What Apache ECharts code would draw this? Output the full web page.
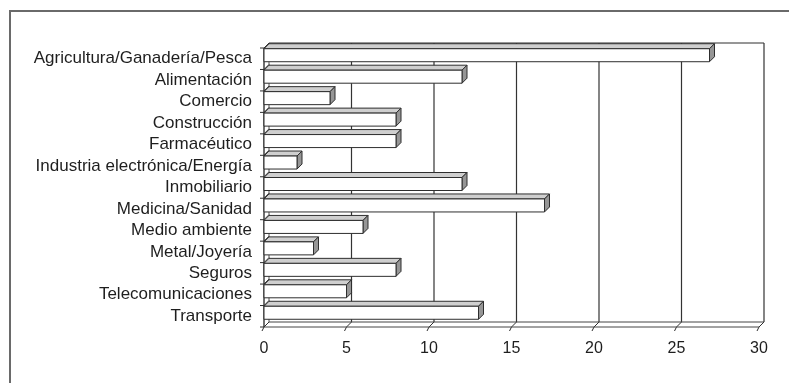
<!DOCTYPE html>
<html>
<head>
<meta charset="utf-8">
<script src="https://cdn.jsdelivr.net/npm/echarts@6/dist/echarts.min.js"></script>
<style>
  html, body { margin: 0; padding: 0; background: #fff; }
  #chart { width: 789px; height: 383px; }
</style>
</head>
<body>
<div id="chart"></div>
<script>
// Sectors and number of companies per sector
const categories = [
  'Agricultura/Ganadería/Pesca',
  'Alimentación',
  'Comercio',
  'Construcción',
  'Farmacéutico',
  'Industria electrónica/Energía',
  'Inmobiliario',
  'Medicina/Sanidad',
  'Medio ambiente',
  'Metal/Joyería',
  'Seguros',
  'Telecomunicaciones',
  'Transporte'
];
const sectorCounts = [27, 12, 4, 8, 8, 2, 12, 17, 6, 3, 8, 5, 13];
const xTicks = [0, 5, 10, 15, 20, 25, 30];

// Pseudo-3D depth offset (px) and bar face extents relative to the band centre
const DX = 5, DY = -5;
const FACE_TOP = -10, FACE_BOTTOM = 3;
const EDGE = '#2e2e2e';

const chart = echarts.init(document.getElementById('chart'), null, { renderer: 'canvas' });

function line(x1, y1, x2, y2, color, w) {
  return { type: 'line', shape: { x1, y1, x2, y2 },
    style: { stroke: color || EDGE, lineWidth: w || 1 } };
}

// Back wall, left wall and floor with their grid lines
function renderFrame(params, api) {
  const cs = params.coordSys;
  const top = cs.y, bottom = cs.y + cs.height;
  const left = cs.x, right = cs.x + cs.width;
  const band = cs.height / categories.length;
  const kids = [];
  // back wall
  kids.push(line(left + DX, top + DY, right + DX, top + DY));
  kids.push(line(left + DX, top + DY, left + DX, bottom + DY, '#555'));
  // vertical grid lines on the back wall, diagonals and ticks on the floor
  xTicks.forEach(function (t) {
    const x = api.coord([t, 0])[0];
    if (t > 0) kids.push(line(x + DX, top + DY, x + DX, bottom + DY, '#333', 1.2));
    kids.push(line(x + DX, bottom + DY, x, bottom));
    kids.push(line(x, bottom, x - 2, bottom + 4));
  });
  // floor
  kids.push(line(left + DX, bottom + DY, right + DX, bottom + DY, '#444'));
  kids.push(line(left, bottom, right, bottom, '#444'));
  // left wall
  kids.push(line(left, top, left, bottom, '#222', 1.3));
  kids.push(line(left, top, left + DX, top + DY));
  for (let k = 0; k <= categories.length; k++) {
    const y = top + k * band;
    kids.push(line(left, y, left + DX, y + DY));
    kids.push(line(left - 4, y, left, y));
  }
  return { type: 'group', children: kids };
}

// One box-shaped bar per sector
function renderBar(params, api) {
  const v = api.value(0), i = api.value(1);
  const end = api.coord([v, i]);
  const start = api.coord([0, i]);
  const x0 = start[0], x1 = end[0];
  const yt = end[1] + FACE_TOP, yb = end[1] + FACE_BOTTOM;
  const st = { stroke: EDGE, lineWidth: 1 };
  return {
    type: 'group',
    children: [
      { type: 'polygon',
        shape: { points: [[x0, yt], [x1, yt], [x1 + DX, yt + DY], [x0 + DX, yt + DY]] },
        style: Object.assign({ fill: '#cfcfcf' }, st) },
      { type: 'polygon',
        shape: { points: [[x1, yt], [x1 + DX, yt + DY], [x1 + DX, yb + DY], [x1, yb]] },
        style: Object.assign({ fill: '#969696' }, st) },
      { type: 'rect',
        shape: { x: x0, y: yt, width: x1 - x0, height: yb - yt },
        style: Object.assign({ fill: '#ffffff' }, st) }
    ]
  };
}

chart.setOption({
  animation: false,
  backgroundColor: '#ffffff',
  graphic: [{
    type: 'rect',
    shape: { x: 10, y: 11, width: 800, height: 400 },
    style: { fill: 'none', stroke: '#6a6a6a', lineWidth: 2 },
    silent: true
  }],
  grid: { left: 264, right: 30, top: 48, bottom: 56 },
  xAxis: {
    type: 'value',
    min: xTicks[0],
    max: xTicks[xTicks.length - 1],
    interval: xTicks[1] - xTicks[0],
    axisLine: { show: false },
    axisTick: { show: false },
    splitLine: { show: false },
    axisLabel: {
      margin: 14,
      color: '#1e1e1e',
      fontFamily: 'Liberation Sans, Arial, sans-serif',
      fontSize: 16
    }
  },
  yAxis: {
    type: 'category',
    inverse: true,
    data: categories,
    axisLine: { show: false },
    axisTick: { show: false },
    splitLine: { show: false },
    axisLabel: {
      interval: 0,
      margin: 12,
      color: '#1e1e1e',
      fontFamily: 'Liberation Sans, Arial, sans-serif',
      fontSize: 17
    }
  },
  series: [
    {
      type: 'custom',
      name: 'frame',
      z: 1,
      silent: true,
      renderItem: renderFrame,
      data: [[0, 0]],
      encode: { x: 0, y: 1 }
    },
    {
      type: 'custom',
      name: 'Empresas',
      z: 2,
      renderItem: renderBar,
      data: sectorCounts.map(function (v, i) { return [v, i]; }),
      encode: { x: 0, y: 1 }
    }
  ]
});
</script>
</body>
</html>
